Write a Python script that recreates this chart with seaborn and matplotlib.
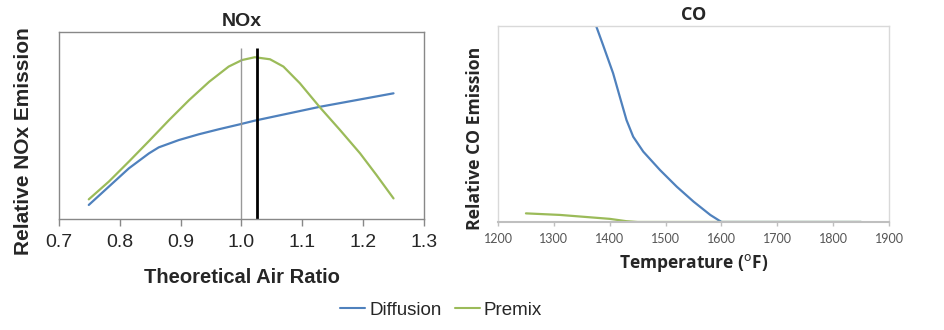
import numpy as np
import pandas as pd
import matplotlib
matplotlib.use("Agg")
import matplotlib.pyplot as plt
import seaborn as sns
from matplotlib.lines import Line2D

# NOx panel data
nox_ratio_diff = [0.749, 0.782, 0.815, 0.848, 0.864, 0.897, 0.930, 0.963, 0.997, 1.022, 1.129, 1.250]
nox_diffusion = [0.075, 0.173, 0.271, 0.351, 0.383, 0.422, 0.453, 0.480, 0.506, 0.526, 0.600, 0.672]
nox_ratio_pre = [0.749, 0.782, 0.815, 0.848, 0.881, 0.914, 0.947, 0.979, 1.001, 1.022, 1.047,
                 1.069, 1.096, 1.129, 1.162, 1.195, 1.222, 1.250]
nox_premix = [0.105, 0.200, 0.307, 0.417, 0.529, 0.636, 0.734, 0.815, 0.850, 0.865, 0.854,
              0.815, 0.726, 0.597, 0.476, 0.351, 0.235, 0.110]
nox_vlines = [1.0, 1.025]
nox_vline_top = 0.914

# CO panel data
co_temp_diff = [1375, 1388, 1406, 1418, 1430, 1442, 1460, 1490, 1520, 1550, 1580, 1600, 1700, 1850]
co_diffusion = [1.005, 0.903, 0.759, 0.639, 0.520, 0.435, 0.359, 0.265, 0.180, 0.104, 0.036, 0.0, 0.0, 0.0]
co_temp_pre = [1250, 1311, 1400, 1430, 1450, 1600, 1850]
co_premix = [0.044, 0.036, 0.016, 0.004, 0.0, 0.0, 0.0]

nox_xticks = [0.7, 0.8, 0.9, 1.0, 1.1, 1.2, 1.3]
co_xticks = [1200, 1300, 1400, 1500, 1600, 1700, 1800, 1900]

BLUE = "#4F81BD"
GREEN = "#9BBB59"

sns.set_style("white")
plt.rcParams['font.family'] = ['Liberation Sans', 'DejaVu Sans']

fig = plt.figure(figsize=(9.45, 3.3), dpi=100)
ax1 = fig.add_axes([0.0624, 0.3364, 0.3862, 0.5667])
ax2 = fig.add_axes([0.527, 0.3273, 0.4138, 0.594])

df_nox = pd.DataFrame({
    "x": nox_ratio_diff + nox_ratio_pre,
    "y": nox_diffusion + nox_premix,
    "s": ["Diffusion"] * len(nox_ratio_diff) + ["Premix"] * len(nox_ratio_pre),
})
sns.lineplot(data=df_nox, x="x", y="y", hue="s", palette=[BLUE, GREEN],
             ax=ax1, legend=False, linewidth=1.6)
ax1.vlines(nox_vlines[0], 0, nox_vline_top, color="#999999", linewidth=1.0)
ax1.vlines(nox_vlines[1], 0, nox_vline_top, color="black", linewidth=2.0)
ax1.set_xlim(0.7, 1.3)
ax1.set_ylim(0, 1)
ax1.set_xticks(nox_xticks)
ax1.set_xticklabels([f"{t:.1f}" for t in nox_xticks], fontsize=14)
ax1.set_yticks([])
ax1.tick_params(axis="x", bottom=True, length=5, width=1, color="#888888", pad=6)
for sp in ax1.spines.values():
    sp.set_color("#888888")
    sp.set_linewidth(1.0)
ax1.set_xlabel("Theoretical Air Ratio", fontsize=14.5, fontweight="bold", labelpad=12)
ax1.set_ylabel("Relative NOx Emission", fontsize=15, fontweight="bold")
ax1.yaxis.set_label_coords(-0.072, 0.418)
ax1.set_title("NOx", fontsize=14, fontweight="bold", pad=4)

df_co = pd.DataFrame({
    "x": co_temp_diff + co_temp_pre,
    "y": co_diffusion + co_premix,
    "s": ["Diffusion"] * len(co_temp_diff) + ["Premix"] * len(co_temp_pre),
})
sns.lineplot(data=df_co, x="x", y="y", hue="s", palette=[BLUE, GREEN],
             ax=ax2, legend=False, linewidth=1.6)
ax2.set_xlim(1200, 1900)
ax2.set_ylim(0, 1)
ax2.set_xticks(co_xticks)
ax2.set_xticklabels([str(t) for t in co_xticks], fontsize=9, color="#555555",
                    family=["Lato", "DejaVu Sans"])
ax2.set_yticks([])
ax2.tick_params(axis="x", bottom=True, length=3, width=1, color="#bfbfbf", pad=5)
for sp in ax2.spines.values():
    sp.set_color("#d9d9d9")
    sp.set_linewidth(1.0)
ax2.spines["bottom"].set_color("#bfbfbf")
ax2.spines["bottom"].set_linewidth(1.5)
ax2.set_xlabel("Temperature ($^{\\rm o}$F)", fontsize=12.5, fontweight="bold", labelpad=5,
               family=["Open Sans", "DejaVu Sans"])
ax2.set_ylabel("Relative CO Emission", fontsize=12.7, fontweight="bold",
               family=["Open Sans", "DejaVu Sans"])
ax2.yaxis.set_label_coords(-0.035, 0.425)
ax2.set_title("CO", fontsize=13, fontweight="bold", pad=4, family=["Open Sans", "DejaVu Sans"])

handles = [Line2D([0], [0], color=BLUE, lw=1.5), Line2D([0], [0], color=GREEN, lw=1.5)]
fig.legend(handles, ["Diffusion", "Premix"], loc="center", bbox_to_anchor=(0.4667, 0.06),
           ncol=2, frameon=False, fontsize=13.5, handlelength=1.35, handletextpad=0.2,
           columnspacing=0.7)

fig.savefig("out.png", dpi=100)
